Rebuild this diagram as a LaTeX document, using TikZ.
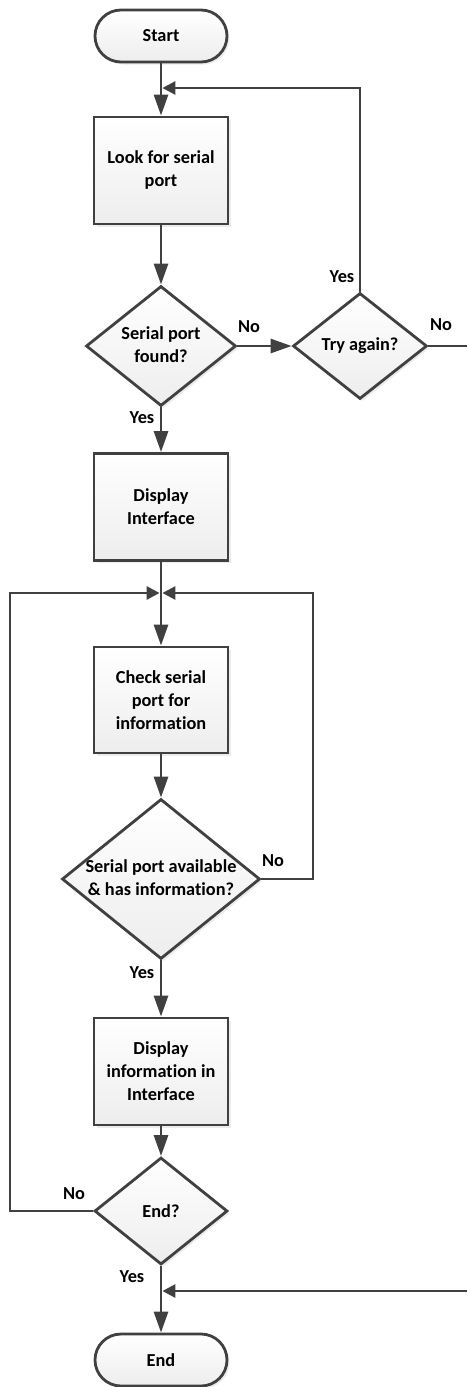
\documentclass[tikz,border=0pt]{standalone}
\usepackage{fontspec}
\setmainfont{Carlito}[Ligatures={NoCommon}]
\usetikzlibrary{shapes.geometric,arrows.meta,shadows}
\definecolor{lc}{HTML}{404040}
\begin{document}
\begin{tikzpicture}[x=1pt,y=-1pt,
  font=\fontsize{18.3}{23}\selectfont\bfseries,
  shp/.style={draw=lc,line width=2.8pt,top color=white,bottom color=black!7,
    drop shadow={shadow xshift=2.5pt,shadow yshift=-2.5pt,opacity=0.15}},
  proc/.style={shp,rectangle,minimum width=134pt,minimum height=107pt,align=center,inner sep=0pt},
  term/.style={shp,rectangle,rounded corners=26pt,minimum width=132pt,minimum height=52pt,inner sep=0pt},
  dec/.style={shp,diamond,inner sep=0pt},
  dtext/.style={align=center,inner sep=0pt},
  conn/.style={draw=lc,line width=2.8pt},
  big/.style={conn,-{Triangle[length=21pt,width=14pt]}},
  small/.style={conn,-{Triangle[length=13pt,width=13pt]},shorten >=1.4pt},
  lbl/.style={inner sep=0pt}
]
\useasboundingbox (0,0) rectangle (467,1387);

% nodes
\node[term] (start) at (161,36) {Start};
\node[proc] (look) at (161,170.5) {Look for serial\\port};
\node[dec,minimum width=150pt,minimum height=120pt] (d1) at (161,346) {};
\node[dtext] (d1t) at (161,345) {Serial port\\found?};
\node[dec,minimum width=134pt,minimum height=106pt] (try) at (360,346) {};
\node[dtext] (tryt) at (360,346) {Try again?};
\node[proc] (disp) at (161,507) {Display\\Interface};
\node[proc,minimum height=106pt] (check) at (161,700) {Check serial\\port for\\information};
\node[dec,minimum width=198pt,minimum height=160pt] (d2) at (161,879) {};
\node[dtext] (d2t) at (161,878) {Serial port available\\\& has information?};
\node[proc] (dinfo) at (161,1071.5) {Display\\information in\\Interface};
\node[dec,minimum width=133pt,minimum height=107pt] (endq) at (161,1211) {};
\node[dtext] (endqt) at (161,1211) {End?};
\node[term] (end) at (161,1360) {End};

% coordinates
\coordinate (j1) at (161,88);
\coordinate (j2) at (161,593);
\coordinate (j3) at (161,1291);
\coordinate (rl) at (313,593);
\coordinate (ll) at (10,593);
\coordinate (rt) at (467,346);
\coordinate (rb) at (467,1291);

% connectors
\draw[big] (start) -- (look);
\draw[small] (try.north) |- (j1);
\draw[big] (look) -- (d1);
\draw[big] (d1.east) -- (try.west);
\draw[conn] (try.east) -- (rt);
\draw[big] (d1.south) -- (disp.north);
\draw[big] (disp) -- (check);
\draw[big] (check) -- (d2);
\draw[small] (d2.east) -| (rl) -- (j2);
\draw[big] (d2.south) -- (dinfo.north);
\draw[big] (dinfo) -- (endq);
\draw[small] (endq.west) -| (ll) -- (j2);
\draw[big] (endq.south) -- (end.north);
\draw[small] (rb) -- (j3);

% labels
\node[lbl] (no1) at (249,327) {No};
\node[lbl] (yes1) at (342,277) {Yes};
\node[lbl] (no2) at (441,325) {No};
\node[lbl] (yes2) at (142,418) {Yes};
\node[lbl] (no3) at (273,861) {No};
\node[lbl] (yes3) at (142,973) {Yes};
\node[lbl] (no4) at (74,1194) {No};
\node[lbl] (yes4) at (132,1277) {Yes};
\end{tikzpicture}
\end{document}
